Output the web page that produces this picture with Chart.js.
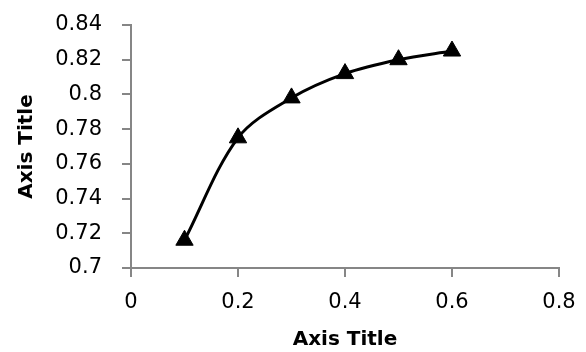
<!DOCTYPE html>
<html><head><meta charset="utf-8">
<script src="https://cdn.jsdelivr.net/npm/chart.js@4/dist/chart.umd.min.js"></script>
<style>html,body{margin:0;padding:0;background:#fff}#w{width:586px;height:352px}</style>
</head><body><div id="w"><canvas id="c"></canvas></div>
<script>
const xValues = [0.1, 0.2, 0.3, 0.4, 0.5, 0.6];
const yValues = [0.716, 0.775, 0.798, 0.812, 0.820, 0.825];
const xTitle = 'Axis Title';
const yTitle = 'Axis Title';
const FONT = '"DejaVu Sans", sans-serif';
const points = xValues.map((x, i) => ({x, y: yValues[i]}));
const fmt = v => String(parseFloat(Number(v).toFixed(4)));
new Chart(document.getElementById('c'), {
  type: 'scatter',
  data: { datasets: [{
    data: points, showLine: true, borderColor: '#000', borderWidth: 3,
    tension: 0.33, pointStyle: 'triangle', pointRadius: 10, pointHoverRadius: 10,
    pointBackgroundColor: '#000', pointBorderColor: '#000', pointBorderWidth: 1
  }]},
  options: {
    responsive: true, maintainAspectRatio: false, animation: false,
    devicePixelRatio: 1,
    layout: { autoPadding: false, padding: { top: 25, right: 27, left: 0, bottom: 0 } },
    plugins: { legend: { display: false }, tooltip: { enabled: false } },
    scales: {
      x: {
        type: 'linear', min: 0, max: 0.8,
        afterFit: s => { s.height = 84; s.paddingLeft = 0; s.paddingRight = 0; },
        ticks: { stepSize: 0.2, color: '#000', font: { family: FONT, size: 21 }, padding: 13, callback: fmt },
        grid: { display: true, drawOnChartArea: false, drawTicks: true, tickLength: 9, color: '#868686', lineWidth: 2 },
        border: { display: true, color: '#868686', width: 2 },
        title: { display: true, text: xTitle, color: '#000', font: { family: FONT, size: 20, weight: 'bold' }, padding: { top: 0, bottom: 0 } }
      },
      y: {
        min: 0.7, max: 0.84,
        afterFit: s => { s.width = 131; s.paddingTop = 0; s.paddingBottom = 0; },
        ticks: { stepSize: 0.02, color: '#000', font: { family: FONT, size: 21 }, padding: 20, callback: fmt },
        grid: { display: true, drawOnChartArea: false, drawTicks: true, tickLength: 9, color: '#868686', lineWidth: 2 },
        border: { display: true, color: '#868686', width: 2 },
        title: { display: true, text: yTitle, color: '#000', font: { family: FONT, size: 20, weight: 'bold' }, padding: { top: 15, bottom: 0 } }
      }
    }
  }
});
</script></body></html>
